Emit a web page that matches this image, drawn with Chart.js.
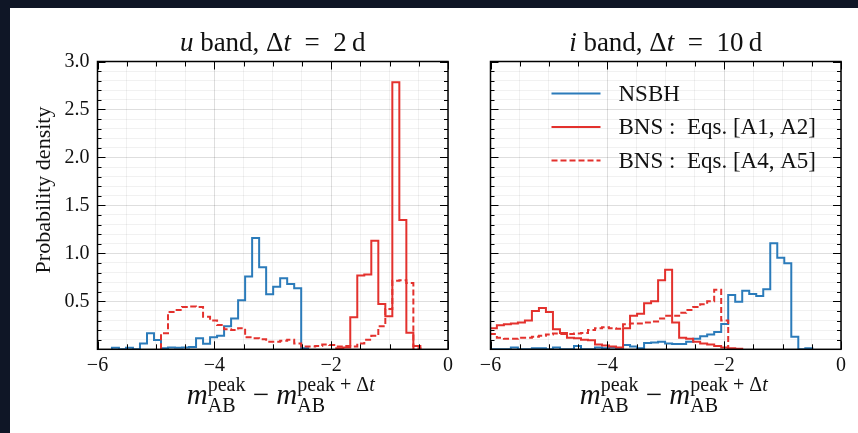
<!DOCTYPE html>
<html>
<head>
<meta charset="utf-8">
<script src="https://cdn.jsdelivr.net/npm/chart.js@4.4.1/dist/chart.umd.min.js"></script>
<style>
  html, body { margin: 0; padding: 0; }
  body { width: 858px; height: 433px; background: #0f1626; position: relative; overflow: hidden; }
  #sheet { position: absolute; left: 10px; top: 8px; width: 848px; height: 425px; background: #fff; }
  .panel { position: absolute; top: 0; height: 425px; }
  #left { left: 0; width: 455px; }
  #right { left: 455px; width: 393px; }
</style>
</head>
<body>
<div id="sheet">
  <div class="panel" id="left"><canvas id="uband"></canvas></div>
  <div class="panel" id="right"><canvas id="iband"></canvas></div>
</div>
<script>
// histogram bins share one width; each series keeps its first bin edge
const BIN_WIDTH = 0.12;

// u band, dt = 2 d
const uNsbhFrom = -5.753;
const uNsbh = [0.017, 0, 0.017, 0, 0.06, 0.167, 0.097, 0.01, 0.02, 0.015, 0.02, 0.025, 0.115, 0.058,
  0.125, 0.14, 0.24, 0.32, 0.51, 0.76, 1.16, 0.855, 0.573, 0.653, 0.74, 0.68, 0.636, 0.01];
const uBnsA12From = -1.913;
const uBnsA12 = [0.01, 0.02, 0.333, 0.77, 0.78, 1.132, 0.471, 0.345, 2.785, 1.348, 0.173, 0.035];
const uBnsA45From = -4.913;
const uBnsA45 = [0.167, 0.39, 0.41, 0.44, 0.446, 0.44, 0.34, 0.30, 0.253, 0.21, 0.2, 0.22, 0.125,
  0.115, 0.105, 0.08, 0.08, 0.09, 0.10, 0.06, 0.03, 0.03, 0.035, 0.05, 0.045, 0.03, 0.035, 0.03,
  0.06, 0.1, 0.14, 0.24, 0.42, 0.715, 0.72, 0.69, 0.01];

// i band, dt = 10 d
const iFrom = -6.011;
const iNsbh = [0, 0, 0, 0.02, 0, 0, 0.01, 0.01, 0, 0.02, 0, 0, 0.035, 0, 0, 0.02, 0.01, 0.02, 0.01,
  0.045, 0.03, 0.01, 0.065, 0.07, 0.08, 0.06, 0.055, 0.055, 0.08, 0.11, 0.135, 0.155, 0.18, 0.265,
  0.566, 0.496, 0.611, 0.577, 0.556, 0.625, 1.105, 0.955, 0.896, 0.131, 0, 0.01];
const iBnsA12 = [0.22, 0.25, 0.26, 0.27, 0.28, 0.30, 0.40, 0.43, 0.39, 0.21, 0.17, 0.12, 0.115, 0.10,
  0.095, 0.05, 0.04, 0.03, 0.02, 0.22, 0.35, 0.37, 0.48, 0.5, 0.72, 0.83, 0.28, 0.12, 0.11, 0.08,
  0.06, 0.05, 0.035, 0.02, 0.01, 0.005];
const iBnsA45 = [0.16, 0.12, 0.11, 0.11, 0.12, 0.12, 0.13, 0.14, 0.155, 0.165, 0.16, 0.16, 0.165,
  0.17, 0.2, 0.22, 0.23, 0.22, 0.215, 0.26, 0.27, 0.27, 0.28, 0.29, 0.32, 0.35, 0.35, 0.38, 0.41,
  0.44, 0.47, 0.5, 0.62, 0.3];

const xTicks = [-6, -4, -2, 0];
const yTicks = [0.5, 1.0, 1.5, 2.0, 2.5, 3.0];
const seriesNames = ['NSBH', 'BNS :  Eqs. [A1, A2]', 'BNS :  Eqs. [A4, A5]'];

const BLUE = '#2b7bba';
const RED = '#e3312d';
const SERIF = '"Liberation Serif", "DejaVu Serif", serif';
const GRID_MAJOR = 'rgba(0,0,0,0.13)';
const GRID_MINOR = 'rgba(0,0,0,0.055)';

// outline of a step histogram: up at the first edge, across each bin, down at the last edge
function histPoints(from, heights) {
  const pts = [{ x: from, y: 0 }];
  heights.forEach((h, i) => pts.push({ x: from + i * BIN_WIDTH, y: h }));
  pts.push({ x: from + heights.length * BIN_WIDTH, y: 0 });
  return pts;
}

function histSet(label, pts, color, dash, order) {
  return {
    label, data: pts, borderColor: color, borderDash: dash, borderWidth: 2,
    stepped: true, pointRadius: 0, fill: false, order, clip: 0
  };
}

const near = (a, b) => Math.abs(a - b) < 1e-6;
const isMajorX = v => xTicks.some(t => near(t, v));
const isMajorY = v => near(v, 0) || yTicks.some(t => near(t, v));
const minus = v => (v < 0 ? '\u2212' + Math.abs(v) : String(v));

// pieces are plain runs or stacked super/subscript pairs
function pieceWidth(ctx, p) {
  if (p.sup) return Math.max(runsWidth(ctx, p.sup), runsWidth(ctx, p.sub));
  ctx.font = p.font;
  return ctx.measureText(p.text).width;
}
function runsWidth(ctx, runs) {
  return runs.reduce((w, r) => w + pieceWidth(ctx, r), 0);
}
function drawRuns(ctx, runs, x, y) {
  runs.forEach(r => {
    ctx.font = r.font;
    ctx.fillText(r.text, x, y);
    x += ctx.measureText(r.text).width;
  });
}
function drawPieces(ctx, pieces, cx, y) {
  let x = cx - runsWidth(ctx, pieces) / 2;
  ctx.textAlign = 'left';
  ctx.textBaseline = 'alphabetic';
  pieces.forEach(p => {
    if (p.sup) {
      drawRuns(ctx, p.sup, x, y - 13);
      drawRuns(ctx, p.sub, x, y + 8);
    } else {
      ctx.font = p.font;
      ctx.fillText(p.text, x, y);
    }
    x += pieceWidth(ctx, p);
  });
}

const F_T = '27px ' + SERIF, F_TI = 'italic 27px ' + SERIF;
const F_M = '29px ' + SERIF, F_MI = 'italic 29px ' + SERIF;
const F_S = '20px ' + SERIF, F_SI = 'italic 20px ' + SERIF;

function titlePieces(band, dt) {
  return [
    { text: band, font: F_TI }, { text: ' band, \u0394', font: F_T }, { text: 't', font: F_TI },
    { text: '\u2002=\u2002' + dt + '\u2009d', font: F_T }
  ];
}
const xLabelPieces = [
  { text: 'm', font: F_MI },
  { sup: [{ text: 'peak', font: F_S }], sub: [{ text: 'AB', font: F_S }] },
  { text: ' \u2212 ', font: F_M },
  { text: 'm', font: F_MI },
  { sup: [{ text: 'peak + \u0394', font: F_S }, { text: 't', font: F_SI }], sub: [{ text: 'AB', font: F_S }] }
];

// frame, inward ticks, titles and labels drawn over the chart
const decorations = {
  id: 'decorations',
  afterDatasetsDraw(chart) {
    const { ctx, chartArea: a, scales: { x, y } } = chart;
    ctx.save();
    ctx.strokeStyle = '#000';
    ctx.lineWidth = 1;
    ctx.beginPath();
    x.ticks.forEach(t => {
      const px = Math.round(x.getPixelForValue(t.value)) + 0.5;
      const len = isMajorX(t.value) ? 8 : 5;
      ctx.moveTo(px, a.bottom); ctx.lineTo(px, a.bottom - len);
      ctx.moveTo(px, a.top); ctx.lineTo(px, a.top + len);
    });
    y.ticks.forEach(t => {
      const py = Math.round(y.getPixelForValue(t.value)) + 0.5;
      const len = isMajorY(t.value) ? 8 : 4;
      ctx.moveTo(a.left, py); ctx.lineTo(a.left + len, py);
      ctx.moveTo(a.right, py); ctx.lineTo(a.right - len, py);
    });
    ctx.stroke();
    ctx.lineWidth = 1.5;
    ctx.strokeRect(a.left, a.top, a.right - a.left, a.bottom - a.top);
    ctx.restore();
  },
  afterDraw(chart, args, opts) {
    const { ctx, chartArea: a } = chart;
    const cx = (a.left + a.right) / 2;
    ctx.save();
    ctx.fillStyle = '#111';
    drawPieces(ctx, opts.title, cx, a.top - 11);
    drawPieces(ctx, xLabelPieces, cx + 8, a.bottom + 55);
    if (opts.yLabel) {
      ctx.translate(34, 182);
      ctx.rotate(-Math.PI / 2);
      ctx.font = '22px ' + SERIF;
      ctx.textAlign = 'center';
      ctx.textBaseline = 'middle';
      ctx.fillText(opts.yLabel, 0, 0);
      ctx.setTransform(1, 0, 0, 1, 0, 0);
    }
    if (opts.legend) {
      chart.data.datasets.forEach((ds, i) => {
        const ly = a.top + 32 + i * 33.5;
        ctx.strokeStyle = ds.borderColor;
        ctx.lineWidth = 2;
        ctx.setLineDash(ds.borderDash);
        ctx.beginPath();
        ctx.moveTo(a.left + 61, ly); ctx.lineTo(a.left + 110, ly);
        ctx.stroke();
        ctx.setLineDash([]);
        ctx.font = '23px ' + SERIF;
        ctx.textAlign = 'left';
        ctx.textBaseline = 'middle';
        ctx.fillText(ds.label, a.left + 128, ly + 1);
      });
    }
    ctx.restore();
  }
};

function panelOptions(yAxisWidth, showYLabels, deco) {
  return {
    responsive: true,
    maintainAspectRatio: false,
    animation: false,
    layout: { padding: { top: 53.5, right: 17, left: 0, bottom: 0 } },
    plugins: {
      legend: { display: false },
      tooltip: { enabled: false },
      decorations: deco
    },
    scales: {
      x: {
        type: 'linear', min: -6, max: 0,
        ticks: {
          stepSize: 0.5, autoSkip: false, maxRotation: 0, padding: 4, color: '#111',
          font: { family: SERIF, size: 20 },
          callback: v => (isMajorX(v) ? minus(v) : '')
        },
        grid: { drawTicks: false, color: c => (c.tick && isMajorX(c.tick.value) ? GRID_MAJOR : GRID_MINOR) },
        border: { display: false },
        afterFit: s => { s.height = 83.7; }
      },
      y: {
        type: 'linear', min: 0, max: 3,
        ticks: {
          display: showYLabels, stepSize: 0.1, autoSkip: false, padding: 8, color: '#111',
          font: { family: SERIF, size: 20 },
          callback: v => (yTicks.some(t => near(t, v)) ? v.toFixed(1) : '')
        },
        grid: { drawTicks: false, color: c => (c.tick && isMajorY(c.tick.value) ? GRID_MAJOR : GRID_MINOR) },
        border: { display: false },
        afterFit: s => { s.width = yAxisWidth; }
      }
    }
  };
}

new Chart(document.getElementById('uband'), {
  type: 'line',
  data: {
    datasets: [
      histSet(seriesNames[0], histPoints(uNsbhFrom, uNsbh), BLUE, [], 3),
      histSet(seriesNames[1], histPoints(uBnsA12From, uBnsA12), RED, [], 2),
      histSet(seriesNames[2], histPoints(uBnsA45From, uBnsA45), RED, [6, 3], 1)
    ]
  },
  options: panelOptions(87.5, true, { title: titlePieces('u', '2'), yLabel: 'Probability density' }),
  plugins: [decorations]
});

new Chart(document.getElementById('iband'), {
  type: 'line',
  data: {
    datasets: [
      histSet(seriesNames[0], histPoints(iFrom, iNsbh), BLUE, [], 3),
      histSet(seriesNames[1], histPoints(iFrom, iBnsA12), RED, [], 2),
      histSet(seriesNames[2], histPoints(iFrom, iBnsA45), RED, [6, 3], 1)
    ]
  },
  options: panelOptions(25.5, false, { title: titlePieces('i', '10'), legend: true }),
  plugins: [decorations]
});
</script>
</body>
</html>
